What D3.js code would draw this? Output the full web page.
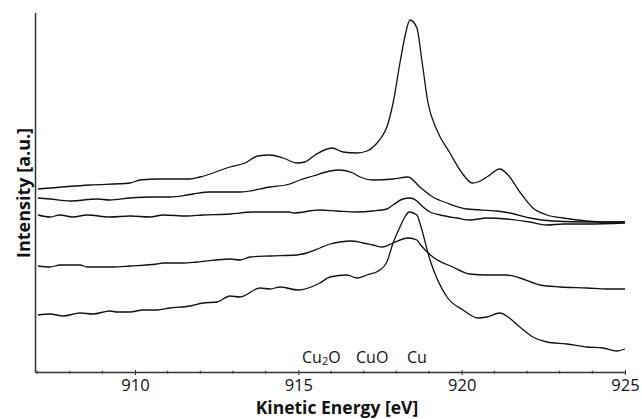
<!DOCTYPE html>
<html>
<head>
<meta charset="utf-8">
<script src="https://cdn.jsdelivr.net/npm/d3@7"></script>
<style>
  html, body { margin: 0; padding: 0; background: #fff; }
  svg { display: block; }
</style>
</head>
<body>
<svg id="chart" width="642" height="419"></svg>
<script>
// ---- data ----
const xDomain = [907, 925];
const xMajorTicks = [910, 915, 920, 925];
const xMinorTicks = [907, 908, 909, 911, 912, 913, 914, 916, 917, 918, 919, 921, 922, 923, 924];
const xLabel = "Kinetic Energy [eV]";
const yLabel = "Intensity [a.u.]";
const peakLabels = ["Cu₂O", "CuO", "Cu"];

// each spectrum: [kinetic energy (eV), intensity (a.u.)]
const spectrum1 = [
  [907.03,183],[908.62,187],[909.85,189],[910.15,192],[910.76,193],[911.68,193],[911.99,195],
  [912.91,205],[913.37,209],[913.76,216],[914.13,217],[914.53,214],[914.96,209],[915.20,210],
  [915.51,217],[916.03,224],[916.37,220],[916.79,219],[917.10,221],[917.41,229],[917.59,237],
  [917.71,245],[917.90,269],[918.11,309],[918.26,335],[918.42,352],[918.63,344],[918.78,312],
  [918.97,269],[919.24,242],[919.64,219],[920.01,199],[920.32,189],[920.50,190],[920.77,195],
  [921.17,203],[921.42,197],[921.78,180],[922.18,164],[922.61,157],[923.10,154],[923.84,151],
  [924.45,150],[925.00,150]
];
const spectrum2 = [
  [907.03,174],[907.40,173],[908.01,171],[908.84,173],[909.23,172],[909.85,174],[910.55,175],
  [911.07,175],[911.59,177],[911.78,178],[912.30,180],[912.91,180],[913.21,180],[914.13,185],
  [914.74,188],[915.05,192],[915.45,196],[915.97,201],[916.27,202],[916.67,199],[916.89,195],
  [917.28,192],[917.90,193],[918.36,195],[918.72,185],[919.12,175],[919.55,169],[920.16,163],
  [921.08,161],[921.48,159],[922.09,154],[922.79,151],[923.84,150],[925.00,150]
];
const spectrum3 = [
  [907.03,157],[907.40,155],[907.70,157],[908.10,155],[908.53,157],[909.23,155],[909.85,156],
  [910.46,155],[910.86,157],[911.59,156],[912.08,157],[912.91,158],[913.61,160],[914.74,160],
  [914.84,159],[915.66,162],[916.18,161],[916.79,160],[917.28,161],[917.71,163],[917.90,167],
  [918.20,173],[918.42,174],[918.63,171],[918.72,168],[919.03,160],[919.34,157],[919.86,154],
  [920.25,152],[920.77,154],[921.39,153],[922.09,150],[922.61,147],[923.10,148],[923.84,148],
  [925.00,149]
];
const spectrum4 = [
  [907.03,106],[907.40,105],[907.70,107],[908.32,107],[908.53,105],[909.33,105],[909.85,106],
  [910.67,108],[910.86,109],[911.47,109],[911.90,110],[912.91,113],[913.21,112],[913.52,115],
  [914.13,116],[914.96,117],[915.26,119],[915.66,124],[915.97,128],[916.27,130],[916.64,131],
  [916.98,129],[917.28,127],[917.59,125],[917.90,129],[918.36,134],[918.63,132],[918.72,128],
  [919.12,115],[919.73,105],[920.25,98],[920.77,97],[921.39,97],[921.78,94],[922.40,87],
  [923.01,85],[923.84,84],[924.45,83],[925.00,83]
];
const spectrum5 = [
  [907.03,57],[907.40,58],[907.80,56],[908.32,59],[908.71,58],[909.23,61],[909.45,60],
  [909.85,60],[910.24,62],[910.67,62],[911.07,64],[911.68,66],[912.08,69],[912.51,70],
  [912.91,76],[913.21,75],[913.83,84],[914.13,83],[914.44,85],[914.99,82],[915.66,89],
  [915.97,95],[916.49,97],[916.79,94],[917.10,97],[917.50,102],[917.71,110],[917.90,129],
  [918.11,145],[918.26,155],[918.39,160],[918.63,157],[918.72,149],[919.03,112],[919.55,75],
  [920.04,62],[920.50,54],[920.77,55],[921.17,59],[921.42,55],[921.78,45],[922.18,35],
  [922.61,30],[923.22,28],[923.84,25],[924.32,24],[924.75,21],[925.00,23]
];
const spectra = [spectrum1, spectrum2, spectrum3, spectrum4, spectrum5];
const yDomain = [0, 360];

// ---- layout ----
const svg = d3.select("#chart");
const mLeft = 37, mRight = 625, mTop = 12, mBottom = 372;
const x = d3.scaleLinear().domain(xDomain).range([mLeft, mRight]);
const y = d3.scaleLinear().domain(yDomain).range([mBottom, mTop]);
const axisColor = "#333";
const font = "'Open Sans', 'DejaVu Sans', sans-serif";

// y axis line (no ticks)
svg.append("line")
  .attr("x1", mLeft - 1.5).attr("x2", mLeft - 1.5)
  .attr("y1", y(yDomain[1]) + 1).attr("y2", mBottom + 0.5)
  .attr("stroke", axisColor).attr("stroke-width", 1.5);

// x axis with major ticks
const gx = svg.append("g").attr("transform", `translate(0,${mBottom})`)
  .call(d3.axisBottom(x).tickValues(xMajorTicks).tickSize(3).tickPadding(4).tickFormat(d3.format("d")));
gx.select(".domain").attr("stroke", axisColor).attr("stroke-width", 1.3)
  .attr("d", `M${mLeft - 1.5},0.5H${mRight}`);
gx.selectAll(".tick line").attr("stroke", axisColor).attr("y1", -2).attr("y2", 3);
gx.selectAll(".tick text").attr("font-family", font).attr("font-size", 16.5).attr("fill", "#111");

// minor ticks
svg.append("g").selectAll("line").data(xMinorTicks).join("line")
  .attr("x1", d => x(d)).attr("x2", d => x(d))
  .attr("y1", mBottom - 1.5).attr("y2", mBottom + 1.5)
  .attr("stroke", axisColor).attr("stroke-width", 1);

// axis titles
svg.append("text").attr("x", 337).attr("y", 414).attr("text-anchor", "middle")
  .attr("font-family", font).attr("font-weight", "bold").attr("font-size", 17.5)
  .attr("fill", "#111").text(xLabel);
svg.append("text").attr("transform", "translate(30,193) rotate(-90)").attr("text-anchor", "middle")
  .attr("font-family", font).attr("font-weight", "bold").attr("font-size", 18)
  .attr("fill", "#111").text(yLabel);

// peak labels
const lbl = svg.append("text").attr("x", 302).attr("y", 363)
  .attr("font-family", font).attr("font-size", 16).attr("fill", "#111");
lbl.append("tspan").text("Cu");
lbl.append("tspan").attr("font-size", 11).attr("dy", 2).text("2");
lbl.append("tspan").attr("dy", -2).text("O");
lbl.append("tspan").attr("x", 356).text("CuO");
lbl.append("tspan").attr("x", 407).text("Cu");

// spectra
const line = d3.line().x(d => x(d[0])).y(d => y(d[1])).curve(d3.curveMonotoneX);
svg.append("g").selectAll("path").data(spectra).join("path")
  .attr("d", line).attr("fill", "none").attr("stroke", "#111").attr("stroke-width", 1.3)
  .attr("stroke-linejoin", "round");
</script>
</body>
</html>
